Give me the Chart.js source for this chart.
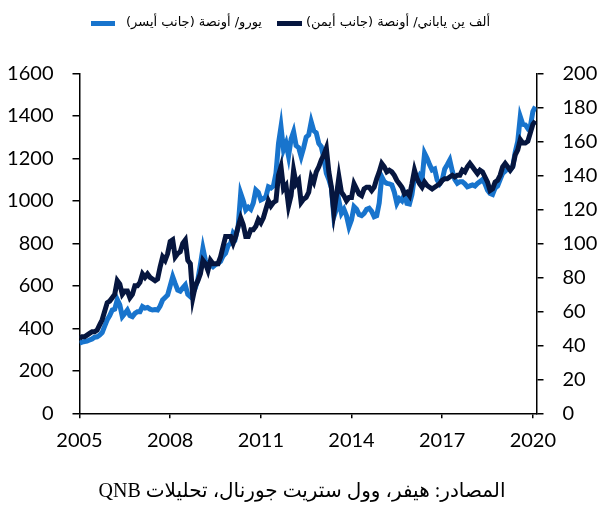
<!DOCTYPE html>
<html>
<head>
<meta charset="utf-8">
<script src="https://cdn.jsdelivr.net/npm/chart.js@4.4.1/dist/chart.umd.min.js"></script>
<style>
html,body{margin:0;padding:0;background:#fff;}
#wrap{position:relative;width:598px;height:505px;overflow:hidden;}
#c{position:absolute;left:0;top:0;}
.lt{position:absolute;top:12px;font-family:"DejaVu Sans",sans-serif;font-size:13px;line-height:20px;direction:rtl;white-space:nowrap;color:#000;}
.sw{position:absolute;top:21px;height:5px;}
#src{position:absolute;left:0;width:604px;top:477px;text-align:center;font-family:"Liberation Serif","DejaVu Sans",serif;font-size:20px;line-height:26px;direction:rtl;color:#000;}
</style>
</head>
<body>
<div id="wrap">
<canvas id="c" width="598" height="505"></canvas>
<div class="sw" style="left:91px;width:24px;background:#1874CD"></div>
<div class="lt" id="lt1" style="right:336px">يورو/ أونصة (جانب أيسر)</div>
<div class="sw" style="left:277px;width:25px;background:#06163F"></div>
<div class="lt" id="lt2" style="right:108px">ألف ين ياباني/ أونصة (جانب أيمن)</div>
<div id="src">المصادر: هيفر، وول ستريت جورنال، تحليلات QNB</div>
</div>
<script>
// Monthly values, Jan 2005 .. Feb 2020
const startYear = 2005;
const euroPerOunce = [
 330,335,338,340,345,350,358,360,368,380,410,440,
 460,486,490,535,510,455,470,486,460,455,470,478,
 478,502,495,498,490,486,488,486,505,533,545,557,
 600,643,610,580,575,590,604,560,549,565,590,630,
 700,776,720,690,700,690,700,706,715,740,753,790,
 800,847,830,880,1035,1000,957,970,960,990,1051,1040,
 1004,1010,1020,1066,1060,1070,1130,1270,1349,1240,1271,1210,
 1290,1325,1260,1250,1208,1250,1300,1310,1372,1330,1320,1270,
 1255,1200,1129,1100,1060,925,960,1000,941,960,930,878,
 910,972,960,935,930,941,960,965,950,925,930,990,
 1113,1090,1082,1080,1075,1040,988,1010,1000,1030,988,985,
 1030,1113,1100,1120,1100,1224,1200,1170,1145,1150,1098,1080,
 1098,1150,1170,1192,1140,1100,1082,1090,1090,1080,1066,1070,
 1075,1070,1082,1090,1100,1080,1050,1035,1030,1060,1070,1100,
 1129,1140,1150,1145,1160,1230,1280,1396,1360,1357,1340,1350,
 1420,1443
];
const yenPerOunce = [
 44,45,45,46,47,48,48,49,52,55,60,65,
 66,68,70,78,76,70,72,72,68,70,75,75,
 77,82,80,82,80,79,78,79,86,92,90,94,
 101,102,92,94,95,100,102,90,88,68,75,78,
 82,90,88,84,90,88,88,88,92,98,104,104,
 104,100,104,110,115,111,104,104,108,108,110,114,
 112,115,120,125,122,124,125,140,145,132,134,122,
 128,143,135,137,124,126,127,130,139,136,142,145,
 149,152,156,142,133,118,128,139,130,128,125,127,
 127,135,132,129,128,132,133,133,131,133,138,142,
 147,145,142,143,142,140,137,135,133,129,130,128,
 135,143,138,135,133,136,134,133,132,133,134,135,
 137,138,138,139,140,139,140,140,143,142,145,147,
 145,143,141,143,142,139,136,131,132,136,137,140,
 145,147,145,143,145,152,155,161,159,159,160,165,
 170,172
];
const xTickLabels = [2005,2008,2011,2014,2017,2020];
const leftTicks = [0,200,400,600,800,1000,1200,1400,1600];
const rightTicks = [0,20,40,60,80,100,120,140,160,180,200];

const toPoints = arr => arr.map((v,i) => ({x: startYear + i/12, y: v}));
const tickFont = {family: 'Lato', size: 20};

new Chart(document.getElementById('c'), {
  type: 'line',
  data: {
    datasets: [
      {label: 'ألف ين ياباني/ أونصة (جانب أيمن)', data: toPoints(yenPerOunce), yAxisID: 'yR',
       borderColor: '#06163F', borderWidth: 5, pointRadius: 0, tension: 0, fill: false},
      {label: 'يورو/ أونصة (جانب أيسر)', data: toPoints(euroPerOunce), yAxisID: 'yL',
       borderColor: '#1874CD', borderWidth: 5, pointRadius: 0, tension: 0, fill: false}
    ]
  },
  options: {
    responsive: false, animation: false, devicePixelRatio: 1,
    layout: {padding: {top: 73.3, left: 0, right: 0, bottom: 0}},
    plugins: {legend: {display: false}, tooltip: {enabled: false}},
    scales: {
      x: {
        type: 'linear', min: 2005, max: 2020.12,
        afterBuildTicks: s => { s.ticks = xTickLabels.map(v => ({value: v})); },
        afterFit: s => { s.height = 505 - 413.3; },
        ticks: {font: tickFont, color: '#000', padding: 10, maxRotation: 0, autoSkip: false, callback: v => String(v)},
        grid: {drawOnChartArea: false, drawTicks: true, tickLength: 5, color: '#000', lineWidth: 1.5},
        border: {color: '#000', width: 1.5}
      },
      yL: {
        position: 'left', min: 0, max: 1600,
        afterBuildTicks: s => { s.ticks = leftTicks.map(v => ({value: v})); },
        afterFit: s => { s.width = 79.5; },
        ticks: {font: tickFont, color: '#000', padding: 19, callback: v => String(v)},
        grid: {drawOnChartArea: false, drawTicks: true, tickLength: 7, color: '#000', lineWidth: 1.5},
        border: {color: '#000', width: 1.5}
      },
      yR: {
        position: 'right', min: 0, max: 200,
        afterBuildTicks: s => { s.ticks = rightTicks.map(v => ({value: v})); },
        afterFit: s => { s.width = 598 - 536.5; },
        ticks: {font: tickFont, color: '#000', padding: 19, callback: v => String(v)},
        grid: {drawOnChartArea: false, drawTicks: true, tickLength: 7, color: '#000', lineWidth: 1.5},
        border: {color: '#000', width: 1.5}
      }
    }
  }
});
</script>
</body>
</html>
